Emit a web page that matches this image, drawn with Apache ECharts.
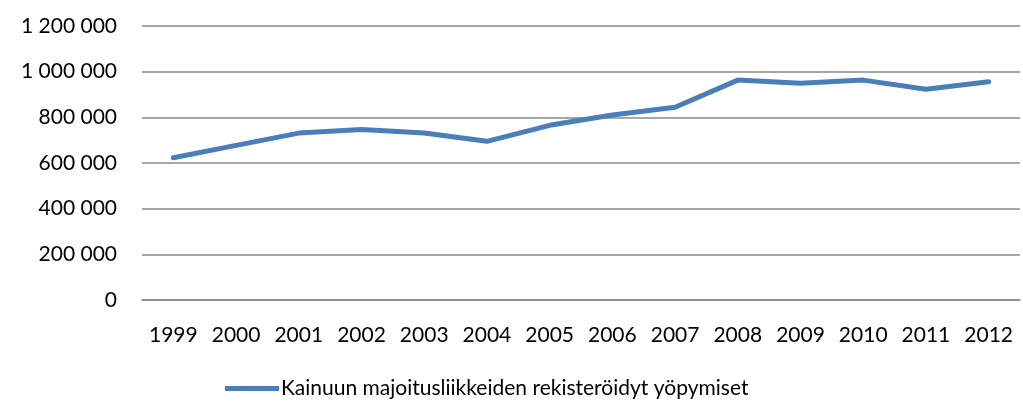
<!DOCTYPE html>
<html>
<head>
<meta charset="utf-8">
<script src="https://cdn.jsdelivr.net/npm/echarts@6/dist/echarts.min.js"></script>
<style>
  html, body { margin: 0; padding: 0; background: #fff; }
  #chart { width: 1023px; height: 403px; }
</style>
</head>
<body>
<div id="chart"></div>
<script>
// vuodet
var years = ['1999', '2000', '2001', '2002', '2003', '2004', '2005', '2006', '2007', '2008', '2009', '2010', '2011', '2012'];
// rekisteröidyt yöpymiset
var nights = [623000, 677000, 731000, 747000, 731000, 695000, 765000, 810000, 844000, 963000, 949000, 963000, 923000, 956000];
var seriesName = 'Kainuun majoitusliikkeiden rekisteröidyt yöpymiset';

function fmt(v) {
  return String(v).replace(/\B(?=(\d{3})+(?!\d))/g, ' ');
}

var chart = echarts.init(document.getElementById('chart'));
var option = {
  animation: false,
  textStyle: { fontFamily: 'Lato', color: '#000' },
  grid: { left: 142, right: 3, top: 26, bottom: 103, containLabel: false },
  legend: {
    left: 220,
    top: 373,
    itemWidth: 54,
    itemHeight: 5,
    itemGap: 4,
    icon: 'rect',
    textStyle: { fontSize: 21, color: '#000', fontFamily: 'Lato', padding: [0, 0, 0, -3] },
    data: [seriesName]
  },
  xAxis: {
    type: 'category',
    data: years,
    boundaryGap: true,
    axisLine: { show: true, lineStyle: { color: '#888', width: 1.5 } },
    axisTick: { show: false },
    axisLabel: { fontSize: 21, color: '#000', margin: 25, interval: 0 }
  },
  yAxis: {
    type: 'value',
    min: 0,
    max: 1200000,
    interval: 200000,
    axisLine: { show: false },
    axisTick: { show: false },
    splitLine: { lineStyle: { color: '#888', width: 1.5 } },
    axisLabel: { fontSize: 21, color: '#000', margin: 25, formatter: fmt }
  },
  series: [{
    name: seriesName,
    type: 'line',
    data: nights,
    symbol: 'none',
    lineStyle: { color: '#4a7ebb', width: 5, cap: 'round', join: 'round' },
    itemStyle: { color: '#4a7ebb' }
  }]
};
chart.setOption(option);
</script>
</body>
</html>
